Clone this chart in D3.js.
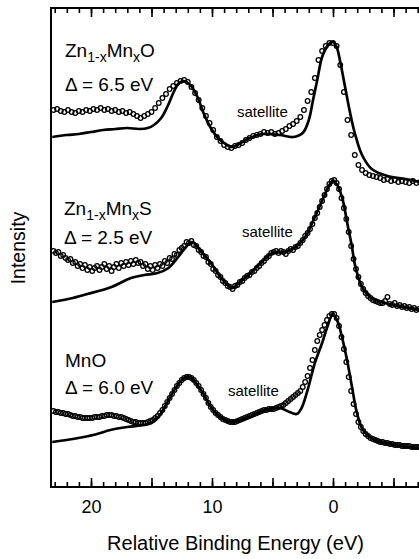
<!DOCTYPE html>
<html><head><meta charset="utf-8">
<script src="https://cdn.jsdelivr.net/npm/d3@7"></script>
<style>body{margin:0;background:#fff}</style>
</head><body>
<svg id="c" width="419" height="559"></svg>
<script>
// ---------- DATA ----------
// binding energies (eV) of measured points
const energyCoarse = [23.1,22.8,22.5,22.2,21.9,21.6,21.3,21.0,20.7,20.4,20.1,19.8,19.5,19.2,18.9,18.6,18.3,18.0,17.7,17.4,17.1,16.8,16.5,16.2,15.9,15.6,15.3,15.0,14.7,14.4,14.1,13.8,13.5,13.2,12.9,12.6,12.3,12.0,11.7,11.4,11.1,10.8,10.5,10.2,9.9,9.6,9.3,9.0,8.7,8.4,8.1,7.8,7.5,7.2,6.9,6.6,6.3,6.0,5.7,5.4,5.1,4.8,4.5,4.2,3.9,3.6,3.3,3.0,2.7,2.4,2.1,1.8,1.5,1.2,0.9,0.6,0.3,0.0,-0.3,-0.6,-0.9,-1.2,-1.5,-1.8,-2.1,-2.4,-2.7,-3.0,-3.3,-3.6,-3.9,-4.2,-4.5,-4.8,-5.1,-5.4,-5.7,-6.0,-6.3,-6.6,-6.9,-7.2];
const energyFine = [23.1,22.9,22.7,22.5,22.3,22.1,21.9,21.7,21.5,21.3,21.1,20.9,20.7,20.5,20.3,20.1,19.9,19.7,19.5,19.3,19.1,18.9,18.7,18.5,18.3,18.1,17.9,17.7,17.5,17.3,17.1,16.9,16.7,16.5,16.3,16.1,15.9,15.7,15.5,15.3,15.1,14.9,14.7,14.5,14.3,14.1,13.9,13.7,13.5,13.3,13.1,12.9,12.7,12.5,12.3,12.1,11.9,11.7,11.5,11.3,11.1,10.9,10.7,10.5,10.3,10.1,9.9,9.7,9.5,9.3,9.1,8.9,8.7,8.5,8.3,8.1,7.9,7.7,7.5,7.3,7.1,6.9,6.7,6.5,6.3,6.1,5.9,5.7,5.5,5.3,5.1,4.9,4.7,4.5,4.3,4.1,3.9,3.7,3.5,3.3,3.1,2.9,2.7,2.5,2.3,2.1,1.9,1.7,1.5,1.3,1.1,0.9,0.7,0.5,0.3,0.1,-0.1,-0.3,-0.5,-0.7,-0.9,-1.1,-1.3,-1.5,-1.7,-1.9,-2.1,-2.3,-2.5,-2.7,-2.9,-3.1,-3.3,-3.5,-3.7,-3.9,-4.1,-4.3,-4.5,-4.7,-4.9,-5.1,-5.3,-5.5,-5.7,-5.9,-6.1,-6.3,-6.5,-6.7,-6.9,-7.1];

// measured intensities (arb. units, with vertical offsets), Zn1-xMnxO on energyCoarse
const znoData = [377,378,376,375,377,375,374,376,375,377,376,378,377,379,377,378,376,377,375,376,374,375,373,371,369,371,373,375,379,384,389,393,398,401,404,406,407,405,400,394,387,379,371,364,357,350,346,342,340,339,341,342,344,347,349,351,352,353,355,354,355,353,354,356,358,361,363,366,370,377,386,395,409,427,436,441,444,444,441,422,395,367,352,332,322,317,314,312,311,310,309,307,308,306,307,305,306,305,304,306,304,305];
// Zn1-xMnxS on energyFine
const znsData = [236,234,235,231,232,229,227,228,224,225,221,223,219,222,217,220,216,219,221,217,220,223,218,221,216,220,223,219,224,221,225,222,226,223,227,224,225,221,223,218,221,217,222,219,223,221,226,224,229,228,233,232,237,239,241,245,244,246,242,241,237,235,231,230,225,223,218,216,212,210,206,204,201,200,198,201,202,205,206,209,211,212,215,216,219,221,224,226,229,231,234,235,236,234,236,235,233,236,238,237,240,241,244,247,251,254,258,263,269,274,280,286,292,298,303,306,307,304,298,289,279,268,255,241,228,218,210,203,198,194,191,189,187,186,185,184,184,186,190,183,182,184,181,182,180,181,179,180,178,179,177,178];
// MnO on energyFine
const mnoData = [76,75,75,74,74,73,73,72,71,71,70,70,69,69,69,69,69,70,70,70,71,71,72,72,72,71,71,70,70,69,68,67,66,65,65,64,64,64,64,65,66,67,69,71,74,77,81,85,89,93,97,101,104,107,109,110,110,109,107,104,101,97,93,89,84,80,77,74,72,70,68,67,66,65,65,65,66,67,68,69,70,71,72,73,74,75,76,77,77,78,78,78,79,80,81,82,84,86,88,90,92,94,96,100,105,111,119,127,137,146,152,157,162,167,171,173,173,169,161,150,138,125,110,96,83,73,65,60,56,53,51,49,48,47,46,45,45,44,44,43,43,42,42,42,41,41,41,41,40,40,40,40];

// calculated spectra (solid lines)
const znoFitE = [23.2,22,21,20,19,18,17,16,15.3,14.8,14.2,13.7,13.2,12.8,12.4,11.8,11.2,10.7,10.1,9.5,9.0,8.4,7.9,6.9,5.8,4.4,3.3,2.5,2.0,1.65,1.3,0.9,0.4,0,-0.3,-0.6,-1.0,-1.4,-1.8,-2.4,-3.2,-4.5,-6.0,-7.2];
const znoFit  = [350,352,353,355,357,358,359,358,359,362,369,380,394,403,406,402,390,374,359,349,344,340,342,349,353,352,350,354,367,387,407,430,442,445,440,425,400,375,354,332,318,311,308,305];
const znsFitE = [23.2,21.5,20.6,18.3,16.7,15.6,14.5,13.6,12.8,12.0,11.6,11.0,10.3,9.8,9.3,8.7,8.3,7.6,7.0,5.9,5.0,4.0,3.1,2.3,1.5,0.8,0.3,0,-0.3,-0.74,-1.24,-1.57,-1.8,-2.4,-3.2,-4.9,-7.2];
const znsFit  = [185,189,192,200,209,212,214,219,230,242,245,237,227,219,210,202,199,206,212,225,234,235,240,250,270,289,302,306,303,290,260,240,223,200,189,182,177];
const mnoFitE = [23.2,21.5,20.6,19.5,18.4,17.0,15.6,15.0,14.5,14.0,13.5,13.0,12.5,12.1,11.7,11.2,10.7,10.2,9.7,9.2,8.5,7.6,6.5,5.8,4.4,3.6,3.0,2.6,2.1,1.5,0.9,0.5,0,-0.4,-0.74,-1.16,-1.57,-1.98,-2.48,-3.47,-5.1,-7.2];
const mnoFit  = [45,48,50,53,57,60,62,64,69,78,89,99,107,110,109,102,93,82,74,69,65,67,72,76,79,75,73,79,97,124,144,159,173,165,150,127,100,74,57,47,42,39];

// ticks / labels
const minorTicks = [-7,-6,-5,-4,-3,-2,-1,0,1,2,3,4,5,6,7,8,9,10,11,12,13,14,15,16,17,18,19,20,21,22,23];
const majorTicks = [-5,0,5,10,15,20];
const tickLabels = [20,10,0];
const xTitle = "Relative Binding Energy (eV)";
const yTitle = "Intensity";
const names = [
  [["Zn",0],["1-x",1],["Mn",0],["x",1],["O",0]],
  [["Zn",0],["1-x",1],["Mn",0],["x",1],["S",0]],
  [["MnO",0]]
];
const deltas = ["\u0394 = 6.5 eV","\u0394 = 2.5 eV","\u0394 = 6.0 eV"];
const satelliteText = "satellite";

// ---------- CHART ----------
const svg = d3.select("#c");
const font = "'Liberation Sans', Arial, Helvetica, sans-serif";
const L = 51, R = 419, T = 8, B = 487;
const x = d3.scaleLinear().domain([20, 0]).range([91, 333]);
const y = d3.scaleLinear().domain([0, 479]).range([B, T]);

svg.append("defs").append("clipPath").attr("id","clip")
  .append("rect").attr("x", L).attr("y", T).attr("width", R - L + 2).attr("height", B - T);

const plot = svg.append("g").attr("clip-path","url(#clip)");
const line = d3.line().x(d => x(d[0])).y(d => y(d[1])).curve(d3.curveCatmullRom.alpha(0.5));

const fits = [[znoFitE, znoFit],[znsFitE, znsFit],[mnoFitE, mnoFit]];
fits.forEach(([e, v]) => {
  plot.append("path").datum(e.map((d,i)=>[d, v[i]]))
    .attr("d", line).attr("fill","none").attr("stroke","#000")
    .attr("stroke-width", 2.7).attr("stroke-linejoin","round");
});

const dataSets = [[energyCoarse, znoData, 2.3],[energyFine, znsData, 2.3],[energyFine, mnoData, 2.3]];
dataSets.forEach(([e, v, r]) => {
  plot.append("g").selectAll("circle").data(e.map((d,i)=>[d, v[i]])).join("circle")
    .attr("cx", d => x(d[0])).attr("cy", d => y(d[1])).attr("r", r)
    .attr("fill","none").attr("stroke","#000").attr("stroke-width", 1.3);
});

// frame
const frame = svg.append("g").attr("stroke","#000").attr("stroke-width",2);
frame.append("line").attr("x1",L).attr("x2",L).attr("y1",T-1).attr("y2",B+1);
frame.append("line").attr("x1",L).attr("x2",R+2).attr("y1",T).attr("y2",T);
frame.append("line").attr("x1",L).attr("x2",R+2).attr("y1",B).attr("y2",B);

function styleAxis(g){
  g.select(".domain").remove();
  g.selectAll(".tick line").attr("stroke","#000").attr("stroke-width",1.6);
  g.selectAll("text").attr("font-family",font).attr("font-size",18).attr("fill","#000");
}
svg.append("g").attr("transform",`translate(0,${B})`)
  .call(d3.axisBottom(x).tickValues(minorTicks).tickSize(-5).tickFormat("")).call(styleAxis);
svg.append("g").attr("transform",`translate(0,${B})`)
  .call(d3.axisBottom(x).tickValues(majorTicks).tickSize(-9).tickPadding(13)
    .tickFormat(d => tickLabels.includes(d) ? d : "")).call(styleAxis);
svg.append("g").attr("transform",`translate(0,${T})`)
  .call(d3.axisTop(x).tickValues(minorTicks).tickSize(-5).tickFormat("")).call(styleAxis);
svg.append("g").attr("transform",`translate(0,${T})`)
  .call(d3.axisTop(x).tickValues(majorTicks).tickSize(-9).tickFormat("")).call(styleAxis);

// titles
svg.append("text").attr("x",235.5).attr("y",550).attr("text-anchor","middle")
  .attr("font-family",font).attr("font-size",20).text(xTitle);
svg.append("text").attr("transform","translate(25,248) rotate(-90)").attr("text-anchor","middle")
  .attr("font-family",font).attr("font-size",19.5).text(yTitle);

// annotations
const namePos = [[65,57],[64,215],[65,367]];
const deltaPos = [[65,91],[64,244],[65,394]];
const satPos = [[237,117],[242,237],[228,396]];
names.forEach((parts, k) => {
  const t = svg.append("text").attr("x",namePos[k][0]).attr("y",namePos[k][1])
    .attr("font-family",font).attr("font-size",19);
  let sub = false;
  parts.forEach(([s, isSub]) => {
    const ts = t.append("tspan").text(s);
    if (isSub && !sub) { ts.attr("dy",5).attr("font-size",14); sub = true; }
    else if (isSub) { ts.attr("font-size",14); }
    else if (sub) { ts.attr("dy",-5); sub = false; }
  });
  svg.append("text").attr("x",deltaPos[k][0]).attr("y",deltaPos[k][1])
    .attr("font-family",font).attr("font-size",19).text(deltas[k]);
  svg.append("text").attr("x",satPos[k][0]).attr("y",satPos[k][1])
    .attr("font-family",font).attr("font-size",15).text(satelliteText);
});
</script>
</body></html>
